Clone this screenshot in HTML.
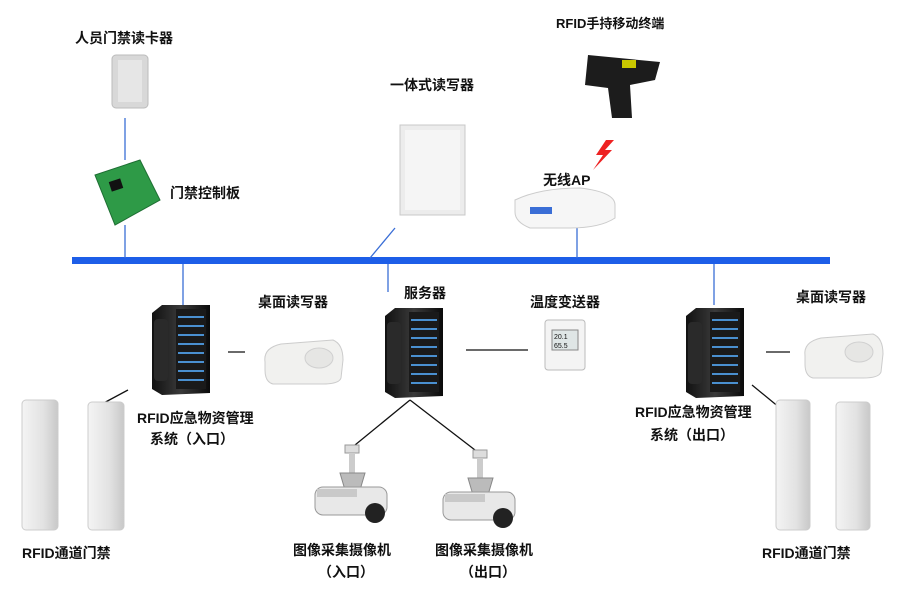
<!DOCTYPE html>
<html><head><meta charset="utf-8"><style>
body{margin:0;background:#fff;}
svg text{font-family:"Liberation Sans","Noto Sans CJK SC",sans-serif;font-size:14px;font-weight:bold;fill:#111;}
</style></head><body>
<svg width="900" height="590" viewBox="0 0 900 590" xmlns="http://www.w3.org/2000/svg">
<defs>
<linearGradient id="srv" x1="0" x2="1"><stop offset="0" stop-color="#111"/><stop offset="0.5" stop-color="#3a3a3a"/><stop offset="1" stop-color="#0a0a0a"/></linearGradient>
<linearGradient id="gate" x1="0" x2="1"><stop offset="0" stop-color="#f4f4f4"/><stop offset="0.6" stop-color="#e2e2e2"/><stop offset="1" stop-color="#c8c8c8"/></linearGradient>
<g id="server">
<path d="M0 8 L10 0 L58 0 L58 88 L10 90 L0 84Z" fill="url(#srv)"/>
<rect x="2" y="14" width="14" height="62" rx="4" fill="#2a2a2a"/>
<rect x="24" y="4" width="30" height="80" fill="#1a1a1a"/>
<g stroke="#4a90d0" stroke-width="2">
<line x1="26" y1="12" x2="52" y2="12"/><line x1="26" y1="21" x2="52" y2="21"/><line x1="26" y1="30" x2="52" y2="30"/><line x1="26" y1="39" x2="52" y2="39"/><line x1="26" y1="48" x2="52" y2="48"/><line x1="26" y1="57" x2="52" y2="57"/><line x1="26" y1="66" x2="52" y2="66"/><line x1="26" y1="75" x2="52" y2="75"/>
</g></g>
<g id="desk">
<path d="M2 22 Q0 8 18 4 L70 0 Q80 4 80 20 L78 38 Q76 44 60 44 L10 44 Q2 42 2 30Z" fill="#f1f1ef" stroke="#ccc"/>
<ellipse cx="56" cy="18" rx="14" ry="10" fill="#e6e6e4" stroke="#d0d0d0"/>
</g>
<g id="cam">
<rect x="30" y="0" width="14" height="8" fill="#ddd" stroke="#999"/>
<rect x="34" y="8" width="6" height="20" fill="#ccc"/>
<path d="M25 28 L50 28 L45 45 L30 45Z" fill="#bbb" stroke="#888"/>
<rect x="0" y="42" width="72" height="28" rx="8" fill="#e8e8e8" stroke="#999"/>
<ellipse cx="60" cy="68" rx="10" ry="10" fill="#222"/>
<rect x="2" y="44" width="40" height="8" fill="#c9c9c9"/>
</g>
</defs>

<rect x="72" y="257" width="758" height="7" fill="#1d5ee8"/>
<g stroke="#3a6ed6" stroke-width="1.3">
<line x1="125" y1="118" x2="125" y2="160"/>
<line x1="125" y1="225" x2="125" y2="258"/>
<line x1="395" y1="228" x2="370" y2="258"/>
<line x1="577" y1="225" x2="577" y2="258"/>
<line x1="183" y1="264" x2="183" y2="305"/>
<line x1="388" y1="264" x2="388" y2="292"/>
<line x1="714" y1="264" x2="714" y2="305"/>
</g>
<g stroke="#111" stroke-width="1.3">
<line x1="228" y1="352" x2="245" y2="352"/>
<line x1="466" y1="350" x2="528" y2="350"/>
<line x1="766" y1="352" x2="790" y2="352"/>
<line x1="100" y1="405" x2="128" y2="390"/>
<line x1="752" y1="385" x2="780" y2="408"/>
<line x1="410" y1="400" x2="355" y2="445"/>
<line x1="410" y1="400" x2="475" y2="450"/>
</g>

<rect x="112" y="55" width="36" height="53" rx="4" fill="#d8d8d8" stroke="#bbb"/>
<rect x="118" y="60" width="24" height="42" fill="#e6e6e6"/>
<path d="M95 175 L140 160 L160 200 L115 225Z" fill="#2e9a47" stroke="#1e6e33"/>
<rect x="110" y="180" width="12" height="10" fill="#111" transform="rotate(-18 116 185)"/>
<rect x="400" y="125" width="65" height="90" fill="#ececec" stroke="#c8c8c8"/>
<rect x="405" y="130" width="55" height="80" fill="#f5f5f5"/>
<path d="M588 55 L660 62 L655 80 L630 85 L632 118 L612 118 L608 88 L585 85Z" fill="#1c1c1c"/>
<rect x="622" y="60" width="14" height="8" fill="#c9c700"/>
<path d="M606 140 L596 155 L603 155 L593 170 L612 150 L605 150 L614 140Z" fill="#e22"/>
<path d="M515 200 Q540 188 580 188 Q615 192 615 205 L615 218 Q600 228 570 228 L530 228 Q515 222 515 212Z" fill="#f6f6f6" stroke="#ccc"/>
<rect x="530" y="207" width="22" height="7" fill="#3a6ed6"/>
<use href="#server" x="152" y="305"/>
<use href="#server" x="385" y="308"/>
<use href="#server" x="686" y="308"/>
<use href="#desk" x="263" y="340"/>
<use href="#desk" x="803" y="334"/>
<rect x="545" y="320" width="40" height="50" rx="3" fill="#f4f4f4" stroke="#bbb"/>
<rect x="552" y="330" width="26" height="20" fill="#dfe6e6" stroke="#888"/>
<text x="554" y="339" style="font-size:7px;font-weight:normal">20.1</text><text x="554" y="348" style="font-size:7px;font-weight:normal">65.5</text>
<rect x="22" y="400" width="36" height="130" rx="4" fill="url(#gate)" stroke="#ccc"/>
<rect x="88" y="402" width="36" height="128" rx="4" fill="url(#gate)" stroke="#ccc"/>
<rect x="776" y="400" width="34" height="130" rx="4" fill="url(#gate)" stroke="#ccc"/>
<rect x="836" y="402" width="34" height="128" rx="4" fill="url(#gate)" stroke="#ccc"/>
<use href="#cam" x="315" y="445"/>
<use href="#cam" x="443" y="450"/>

<text x="75" y="43">人员门禁读卡器</text>
<text x="170" y="198">门禁控制板</text>
<text x="390" y="90">一体式读写器</text>
<text x="556" y="28" style="font-size:13px">RFID手持移动终端</text>
<text x="543" y="185">无线AP</text>
<text x="258" y="307">桌面读写器</text>
<text x="404" y="298">服务器</text>
<text x="530" y="307">温度变送器</text>
<text x="796" y="302">桌面读写器</text>
<text x="137" y="423">RFID应急物资管理</text>
<text x="150" y="444">系统（入口）</text>
<text x="635" y="417">RFID应急物资管理</text>
<text x="650" y="440">系统（出口）</text>
<text x="22" y="558">RFID通道门禁</text>
<text x="762" y="558">RFID通道门禁</text>
<text x="293" y="555">图像采集摄像机</text>
<text x="318" y="577">（入口）</text>
<text x="435" y="555">图像采集摄像机</text>
<text x="460" y="577">（出口）</text>
</svg>
</body></html>
